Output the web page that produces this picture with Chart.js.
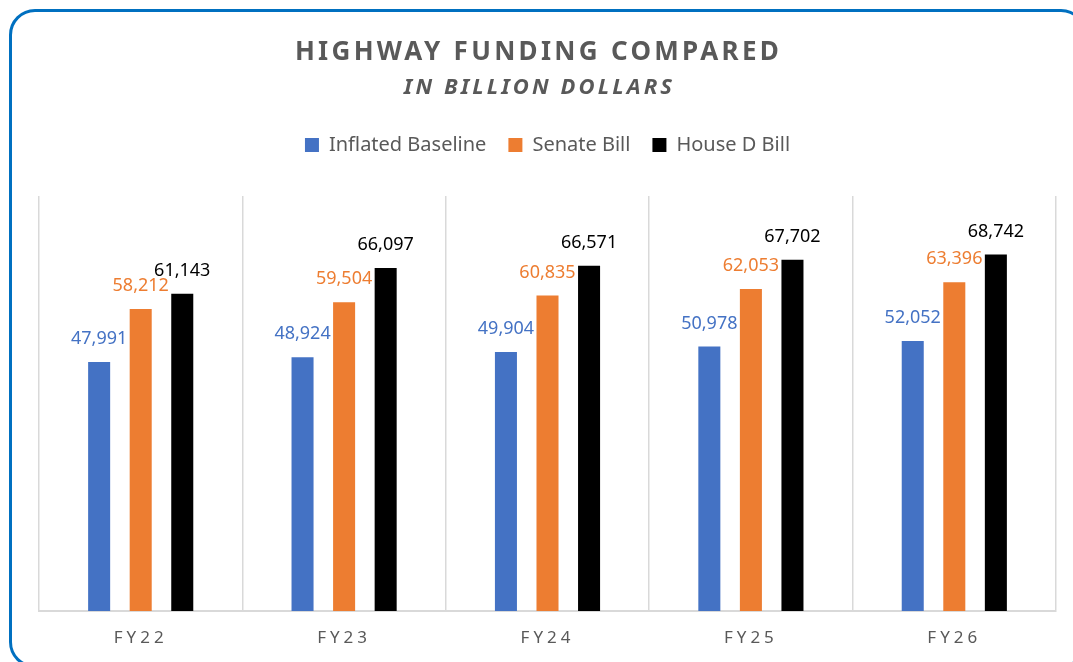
<!DOCTYPE html>
<html>
<head>
<meta charset="utf-8">
<title>Highway Funding Compared</title>
<script src="https://cdn.jsdelivr.net/npm/chart.js@4.4.1/dist/chart.umd.min.js"></script>
<style>
  html, body { margin: 0; padding: 0; background: #fff; overflow: hidden; }
  #wrap { position: absolute; left: 0; top: 0; width: 1073px; height: 662px; }
  #frame {
    position: absolute; left: 9px; top: 9px; width: 1078px; height: 659px;
    box-sizing: border-box; border: 3px solid #0070C0; border-radius: 26px;
    pointer-events: none;
  }
</style>
</head>
<body>
<div id="frame"></div>
<div id="wrap"><canvas id="chart-funding"></canvas></div>
<script>
// ---- Data (billion dollars) ----
const years     = ['FY22', 'FY23', 'FY24', 'FY25', 'FY26'];
const baseline  = [47991, 48924, 49904, 50978, 52052];
const senate    = [58212, 59504, 60835, 62053, 63396];
const houseD    = [61143, 66097, 66571, 67702, 68742];

const FONT = "'Noto Sans', 'Open Sans', sans-serif";
const GREY = '#595959';

// ---- Title + subtitle with letter spacing ----
const titlePlugin = {
  id: 'spaced-title',
  afterDraw(chart) {
    const ctx = chart.ctx;
    const cx = chart.width / 2;
    ctx.save();
    ctx.fillStyle = GREY;
    ctx.textAlign = 'center';
    ctx.textBaseline = 'alphabetic';
    ctx.font = `bold 26px ${FONT}`;
    ctx.letterSpacing = '3.3px';
    ctx.fillText('HIGHWAY FUNDING COMPARED', cx + 2, 60);
    ctx.font = `italic bold 22px ${FONT}`;
    ctx.letterSpacing = '3.1px';
    ctx.fillText('IN BILLION DOLLARS', cx + 3, 94);
    ctx.restore();
  }
};

// ---- Value labels above bars ----
const valueLabels = {
  id: 'value-labels',
  afterDatasetsDraw(chart) {
    const ctx = chart.ctx;
    ctx.save();
    ctx.font = `18px ${FONT}`;
    ctx.textAlign = 'center';
    ctx.textBaseline = 'middle';
    chart.data.datasets.forEach((ds, i) => {
      const meta = chart.getDatasetMeta(i);
      ctx.fillStyle = ds.labelColor;
      meta.data.forEach((bar, j) => {
        ctx.fillText(ds.data[j].toLocaleString('en-US'), bar.x, bar.y - 23);
      });
    });
    ctx.restore();
  }
};

// ---- Spaced x tick labels + extra room under the legend ----
const tweaks = {
  id: 'tweaks',
  beforeInit(chart) {
    const fit = chart.legend.fit;
    chart.legend.fit = function () {
      fit.call(this);
      this.height += 31;
    };
  },
  beforeDraw(chart) {
    const x = chart.scales.x;
    if (x && !x.__spaced) {
      const orig = x.drawLabels;
      x.drawLabels = function (area) {
        this.ctx.save();
        this.ctx.letterSpacing = '4px';
        orig.call(this, area);
        this.ctx.restore();
      };
      x.__spaced = true;
    }
  }
};

new Chart(document.getElementById('chart-funding'), {
  type: 'bar',
  data: {
    labels: years,
    datasets: [
      { label: 'Inflated Baseline', data: baseline, backgroundColor: '#4472C4', labelColor: '#4472C4' },
      { label: 'Senate Bill',       data: senate,   backgroundColor: '#ED7D31', labelColor: '#ED7D31' },
      { label: 'House D Bill',      data: houseD,   backgroundColor: '#000000', labelColor: '#000000' }
    ]
  },
  options: {
    responsive: true,
    maintainAspectRatio: false,
    animation: false,
    categoryPercentage: 0.613,
    barPercentage: 0.53,
    layout: { padding: { top: 113, left: 39, right: 17, bottom: -4 } },
    plugins: {
      legend: {
        position: 'top',
        labels: {
          boxWidth: 14,
          boxHeight: 14,
          padding: 22,
          color: GREY,
          font: { family: FONT, size: 20 }
        }
      },
      tooltip: { enabled: false }
    },
    scales: {
      x: {
        grid: { offset: true, drawTicks: false, color: '#d9d9d9', lineWidth: 1.5 },
        border: { display: true, color: '#d9d9d9', width: 2 },
        ticks: { color: GREY, padding: 19, font: { family: FONT, size: 17, lineHeight: 1 } }
      },
      y: {
        display: false,
        min: 0,
        max: 80000
      }
    }
  },
  plugins: [titlePlugin, valueLabels, tweaks]
});
</script>
</body>
</html>
